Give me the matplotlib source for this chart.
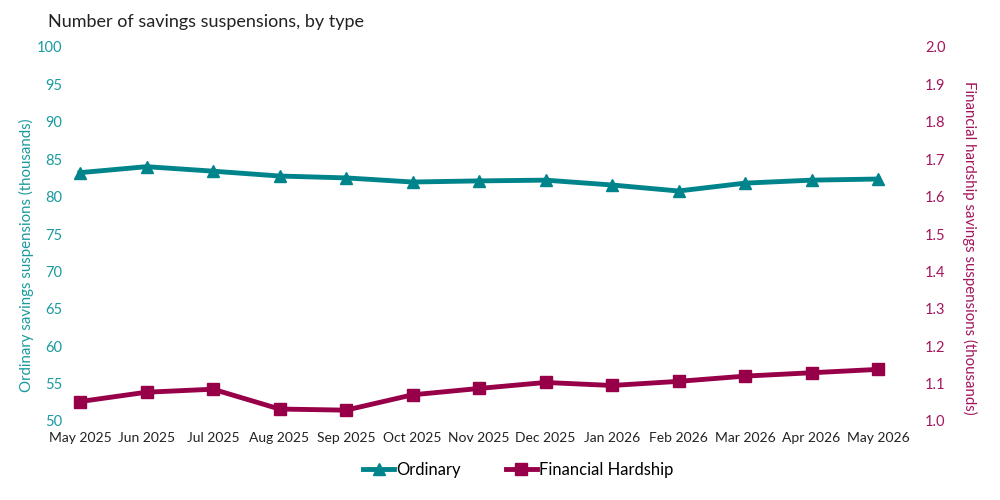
import matplotlib.pyplot as plt

plt.rcParams['font.family'] = ['Lato', 'DejaVu Sans']

months = ["May 2025", "Jun 2025", "Jul 2025", "Aug 2025", "Sep 2025", "Oct 2025",
          "Nov 2025", "Dec 2025", "Jan 2026", "Feb 2026", "Mar 2026", "Apr 2026", "May 2026"]
ordinary = [83.2, 84.0, 83.4, 82.75, 82.5, 81.95, 82.1, 82.2, 81.55, 80.75, 81.8, 82.2, 82.35]
hardship = [1.052, 1.077, 1.085, 1.032, 1.029, 1.070, 1.087, 1.103, 1.095, 1.106, 1.120, 1.129, 1.138]

TEAL = "#00848c"
TEAL_TXT = "#1a9a9e"
PLUM = "#970048"
PLUM_TXT = "#a3165d"

fig = plt.figure(figsize=(10, 5), dpi=100)
ax = fig.add_axes([0.080, 0.158, 0.798, 0.748])
ax2 = ax.twinx()

x = list(range(len(months)))
l1, = ax.plot(x, ordinary, color=TEAL, lw=3.5, marker="^", ms=8, clip_on=False, zorder=3)
l2, = ax2.plot(x, hardship, color=PLUM, lw=3.5, marker="s", ms=8, clip_on=False, zorder=3)

ax.set_xlim(0, 12)
ax.set_ylim(50, 100)
ax.set_yticks(range(50, 101, 5))
ax2.set_ylim(1.0, 2.0)
ax2.set_yticks([1.0 + i / 10 for i in range(11)])
ax2.set_yticklabels([f"{1.0 + i / 10:.1f}" for i in range(11)])

ax.set_xticks(x)
ax.set_xticklabels(months, fontsize=10, color="#222222")

for a in (ax, ax2):
    for s in a.spines.values():
        s.set_visible(False)
ax.tick_params(axis="x", length=0, pad=8)
ax.tick_params(axis="y", length=0, pad=13, labelsize=10.5, labelcolor=TEAL_TXT)
ax2.tick_params(axis="y", length=0, pad=34, labelsize=10.5, labelcolor=PLUM_TXT)

fig.text(0.048, 0.955, "Number of savings suspensions, by type", fontsize=13,
         color="#222222", va="center", ha="left")
fig.text(0.026, 0.49, "Ordinary savings suspensions (thousands)", rotation=90,
         fontsize=10.8, color=TEAL_TXT, ha="center", va="center")
fig.text(0.970, 0.505, "Financial hardship savings suspensions (thousands)", rotation=270,
         fontsize=10.8, color=PLUM_TXT, ha="center", va="center")

fig.legend([l1, l2], ["Ordinary", "Financial Hardship"], loc="center",
           bbox_to_anchor=(0.518, 0.06), ncol=2, frameon=False, fontsize=12,
           handlelength=1.9, handletextpad=0.1, columnspacing=2.7)

fig.savefig("out.png", dpi=100)
